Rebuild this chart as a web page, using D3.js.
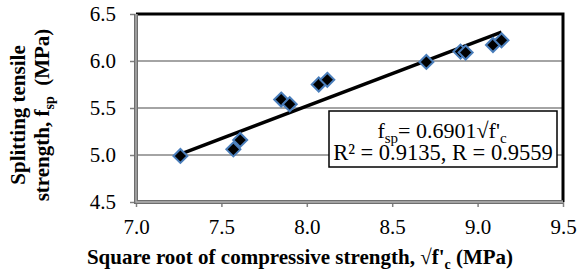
<!DOCTYPE html>
<html>
<head>
<meta charset="utf-8">
<script src="https://cdn.jsdelivr.net/npm/d3@7"></script>
<style>
  body { margin: 0; background: #fff; }
  svg { display: block; }
  svg text { font-family: "Liberation Serif", "Times New Roman", serif; }
</style>
</head>
<body>
<div id="chart"></div>
<script>
// data
var sqrtFc = [7.26, 7.57, 7.61, 7.85, 7.90, 8.07, 8.12, 8.70, 8.90, 8.93, 9.09, 9.14];
var fsp    = [4.99, 5.06, 5.16, 5.59, 5.54, 5.75, 5.80, 5.99, 6.10, 6.09, 6.17, 6.22];
var xTicks = [7.0, 7.5, 8.0, 8.5, 9.0, 9.5];
var yTicks = [4.5, 5.0, 5.5, 6.0, 6.5];
var slope = 0.6901;
var eqLines = ["0.6901", "R\u00b2 = 0.9135, R = 0.9559"];

var W = 577, H = 271;
var margin = {top: 14, right: 14, bottom: 69, left: 136},
    width = W - margin.left - margin.right,
    height = H - margin.top - margin.bottom;

var serif = "'Liberation Serif', 'Times New Roman', serif";

var svg = d3.select("#chart")
  .append("svg")
    .attr("width", W)
    .attr("height", H)
    .attr("font-family", serif);

var g = svg.append("g")
    .attr("transform", "translate(" + margin.left + "," + margin.top + ")");

var x = d3.scaleLinear().domain([7.0, 9.5]).range([0, width]);
var y = d3.scaleLinear().domain([4.5, 6.5]).range([height, 0]);

// gridlines
g.selectAll(".grid")
  .data(yTicks.filter(function(d){ return d > 4.5 && d < 6.5; }))
  .enter()
  .append("line")
    .attr("x1", 0)
    .attr("x2", width)
    .attr("y1", function(d){ return y(d); })
    .attr("y2", function(d){ return y(d); })
    .attr("stroke", "#868686")
    .attr("stroke-width", 1.5);

// axes
var yAxis = g.append("g")
  .call(d3.axisLeft(y).tickValues(yTicks).tickFormat(d3.format(".1f")).tickSize(6).tickPadding(14));
var xAxis = g.append("g")
  .attr("transform", "translate(0," + height + ")")
  .call(d3.axisBottom(x).tickValues(xTicks).tickFormat(d3.format(".1f")).tickSize(5).tickPadding(12));

[yAxis, xAxis].forEach(function(a){
  a.attr("font-family", serif).attr("font-size", 21);
  a.select(".domain").remove();
  a.selectAll(".tick line").attr("stroke", "#808080").attr("stroke-width", 1.5);
  a.selectAll(".tick text").attr("fill", "#000");
});

// frame: top and right black, left and bottom grey
g.append("path")
  .attr("d", "M0,0H" + width + "V" + height)
  .attr("fill", "none")
  .attr("stroke", "#000")
  .attr("stroke-width", 3);
g.append("path")
  .attr("d", "M0,0V" + height + "H" + width)
  .attr("fill", "none")
  .attr("stroke", "#6e6e6e")
  .attr("stroke-width", 4);
g.append("path")
  .attr("d", "M0,0V" + height + "H" + width)
  .attr("fill", "none")
  .attr("stroke", "#b4b4b4")
  .attr("stroke-width", 1.3);

// trend line through origin
var xr = d3.extent(sqrtFc);
g.append("line")
  .attr("x1", x(xr[0]))
  .attr("y1", y(slope * xr[0]))
  .attr("x2", x(xr[1]))
  .attr("y2", y(slope * xr[1]))
  .attr("stroke", "#000")
  .attr("stroke-width", 3.5);

// diamonds
g.selectAll(".pt")
  .data(sqrtFc)
  .enter()
  .append("path")
    .attr("transform", function(d, i){ return "translate(" + x(d) + "," + y(fsp[i]) + ")"; })
    .attr("d", "M0,-7L7,0L0,7L-7,0Z")
    .attr("fill", "#000")
    .attr("stroke", "#4a7ebb")
    .attr("stroke-width", 2);

// equation box
var bx = 329 - margin.left, by = 111 - margin.top, bw = 228, bh = 56;
g.append("rect")
  .attr("x", bx).attr("y", by)
  .attr("width", bw).attr("height", bh)
  .attr("fill", "#fff")
  .attr("stroke", "#000")
  .attr("stroke-width", 1.5);

var t1 = g.append("text")
  .attr("x", bx + bw / 2 - 1)
  .attr("y", by + 27)
  .attr("text-anchor", "middle")
  .attr("font-size", 22);
t1.append("tspan").text("f");
t1.append("tspan").attr("dy", 5).attr("font-size", 15).text("sp");
t1.append("tspan").attr("dy", -5).text("= " + eqLines[0] + "\u221af'");
t1.append("tspan").attr("dy", 5).attr("font-size", 15).text("c");

g.append("text")
  .attr("x", bx + bw / 2)
  .attr("y", by + 49)
  .attr("text-anchor", "middle")
  .attr("font-size", 22.5)
  .text(eqLines[1]);

// axis titles
var xt = svg.append("text")
  .attr("x", 300)
  .attr("y", 264)
  .attr("text-anchor", "middle")
  .attr("font-size", 21)
  .attr("font-weight", "bold");
xt.append("tspan").text("Square root of compressive strength, \u221af'");
xt.append("tspan").attr("dy", 5).attr("font-size", 14).text("c");
xt.append("tspan").attr("dy", -5).text(" (MPa)");

var yt = svg.append("g")
  .attr("transform", "translate(0,115) rotate(-90)");
yt.append("text")
  .attr("x", 0)
  .attr("y", 25)
  .attr("text-anchor", "middle")
  .attr("font-size", 21)
  .attr("font-weight", "bold")
  .text("Splitting tensile");
var yt2 = yt.append("text")
  .attr("x", 0)
  .attr("y", 49)
  .attr("text-anchor", "middle")
  .attr("font-size", 21)
  .attr("font-weight", "bold");
yt2.append("tspan").text("strength, f");
yt2.append("tspan").attr("dy", 5).attr("font-size", 14).text("sp");
yt2.append("tspan").attr("dy", -5).text("\u00a0\u00a0(MPa)");
</script>
</body>
</html>
